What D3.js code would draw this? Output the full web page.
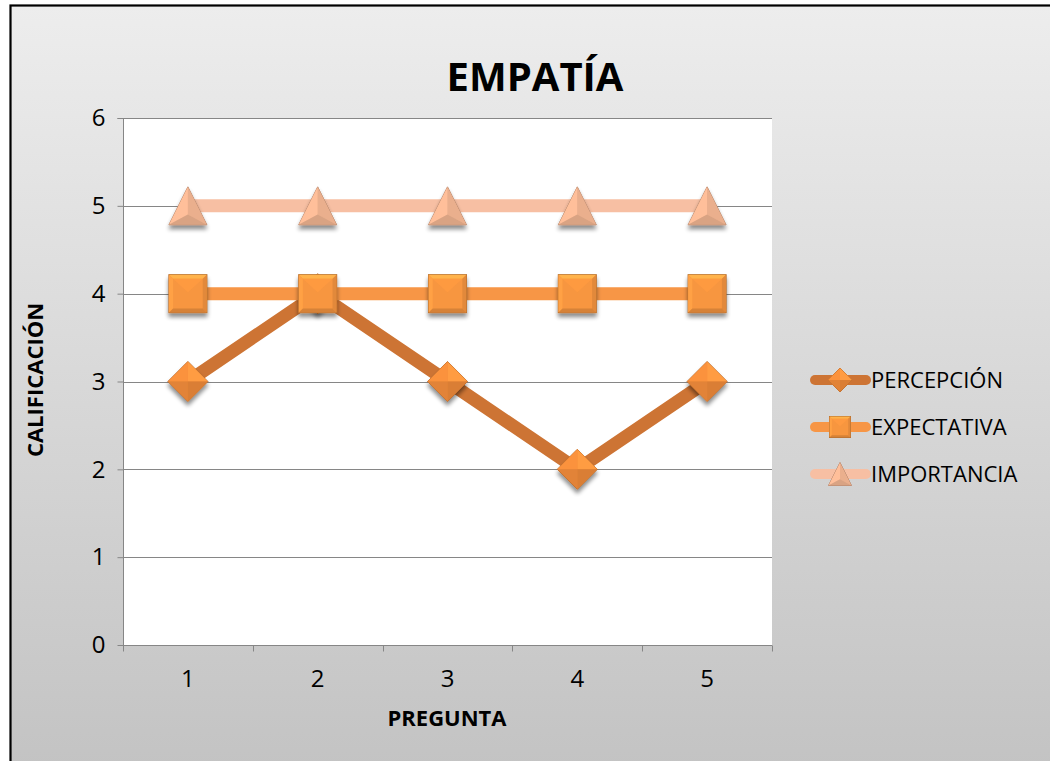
<!DOCTYPE html>
<html>
<head>
<meta charset="utf-8">
<script src="https://cdn.jsdelivr.net/npm/d3@7/dist/d3.min.js"></script>
<style>
  html, body { margin: 0; padding: 0; background: #ffffff; }
  svg { display: block; }
  text { font-family: "Open Sans", "Noto Sans", sans-serif; fill: #000; }
</style>
</head>
<body>
<svg id="chart" width="1050" height="761"></svg>
<script>
// Question numbers on the x axis
const preguntas = ["1", "2", "3", "4", "5"];
// Ratings per question for each series
const percepcion = [3, 4, 3, 2, 3];
const expectativa = [4, 4, 4, 4, 4];
const importancia = [5, 5, 5, 5, 5];
const yTicks = [0, 1, 2, 3, 4, 5, 6];
const seriesNames = ["PERCEPCIÓN", "EXPECTATIVA", "IMPORTANCIA"];

const svg = d3.select("#chart");
const W = 1050, H = 761;
const plot = { left: 123, right: 772, top: 118, bottom: 645 };

const defs = svg.append("defs");
const bg = defs.append("linearGradient").attr("id", "bg").attr("x1", 0).attr("y1", 0).attr("x2", 0).attr("y2", 1);
bg.append("stop").attr("offset", "0%").attr("stop-color", "#ededed");
bg.append("stop").attr("offset", "100%").attr("stop-color", "#c2c2c2");

const sh = defs.append("filter").attr("id", "shadow").attr("x", "-50%").attr("y", "-50%").attr("width", "200%").attr("height", "200%");
sh.append("feGaussianBlur").attr("in", "SourceAlpha").attr("stdDeviation", 2.2).attr("result", "b");
sh.append("feOffset").attr("in", "b").attr("dx", 0).attr("dy", 4).attr("result", "o");
sh.append("feComponentTransfer").attr("in", "o").attr("result", "oa")
  .append("feFuncA").attr("type", "linear").attr("slope", 0.45);
const m = sh.append("feMerge");
m.append("feMergeNode").attr("in", "oa");
m.append("feMergeNode").attr("in", "SourceGraphic");

// Chart frame
svg.append("rect").attr("x", 10.5).attr("y", 5.5).attr("width", W + 20).attr("height", H + 20)
  .attr("fill", "url(#bg)").attr("stroke", "#000").attr("stroke-width", 2.2);

const x = d3.scaleBand().domain(preguntas).range([plot.left, plot.right]);
const y = d3.scaleLinear().domain([0, 6]).range([plot.bottom, plot.top]);

svg.append("rect").attr("x", plot.left).attr("y", plot.top)
  .attr("width", plot.right - plot.left).attr("height", plot.bottom - plot.top).attr("fill", "#ffffff");

// Horizontal gridlines
svg.append("g").selectAll("line").data(yTicks.filter(d => d > 0)).join("line")
  .attr("x1", plot.left).attr("x2", plot.right)
  .attr("y1", d => Math.round(y(d)) + 0.5).attr("y2", d => Math.round(y(d)) + 0.5)
  .attr("stroke", "#868686").attr("stroke-width", 1);

// Y axis
const yAxis = svg.append("g").attr("transform", `translate(${plot.left + 0.5},0)`)
  .call(d3.axisLeft(y).tickValues(yTicks).tickSize(6).tickPadding(12).tickFormat(d3.format("d")));
yAxis.selectAll("path, line").attr("stroke", "#868686");
yAxis.selectAll("text").attr("font-size", 24).attr("font-family", "Open Sans").attr("fill", "#000");
yAxis.select(".domain").attr("d", `M-6,${plot.top + 0.5}H0V${plot.bottom + 0.5}`);

// X axis with ticks on category boundaries
const xAxis = svg.append("g").attr("transform", `translate(0,${plot.bottom + 0.5})`);
xAxis.append("line").attr("x1", plot.left).attr("x2", plot.right).attr("stroke", "#868686");
const bounds = preguntas.map(p => x(p)).concat([plot.right]);
xAxis.selectAll(".tk").data(bounds).join("line").attr("class", "tk")
  .attr("x1", d => Math.round(d) + 0.5).attr("x2", d => Math.round(d) + 0.5)
  .attr("y1", 0).attr("y2", 6).attr("stroke", "#868686");
xAxis.selectAll("text").data(preguntas).join("text")
  .attr("x", d => x(d) + x.bandwidth() / 2).attr("y", 41)
  .attr("text-anchor", "middle").attr("font-size", 24).text(d => d);

// Titles
svg.append("text").attr("x", 535).attr("y", 91).attr("text-anchor", "middle")
  .attr("font-size", 40).attr("font-weight", "bold").text("EMPATÍA");
svg.append("text").attr("x", 447).attr("y", 726).attr("text-anchor", "middle")
  .attr("font-size", 22).attr("font-weight", "bold").text("PREGUNTA");
svg.append("text").attr("transform", "translate(43,380) rotate(-90)").attr("text-anchor", "middle")
  .attr("font-size", 22).attr("font-weight", "bold").text("CALIFICACIÓN");

// Beveled marker shapes
function diamond(g, s, base) {
  const h = s / 2, c = d3.color(base);
  g.append("path").attr("d", `M0,${-h}L${h},0L0,${h}L${-h},0Z`).attr("fill", c).attr("stroke", c.darker(0.8)).attr("stroke-width", 1);
  g.append("path").attr("d", `M0,${-h}L${h},0L0,0Z`).attr("fill", c.brighter(0.35));
  g.append("path").attr("d", `M0,${-h}L${-h},0L0,0Z`).attr("fill", c.brighter(0.15));
  g.append("path").attr("d", `M${-h},0L0,${h}L0,0Z`).attr("fill", c.darker(0.15));
  g.append("path").attr("d", `M${h},0L0,${h}L0,0Z`).attr("fill", c.darker(0.25));
}
function square(g, s, base) {
  const h = s / 2, i = h * 0.78, c = d3.color(base);
  g.append("rect").attr("x", -h).attr("y", -h).attr("width", s).attr("height", s).attr("fill", c).attr("stroke", c.darker(1)).attr("stroke-width", 1);
  g.append("path").attr("d", `M${-h},${-h}L${h},${-h}L${i},${-i}L${-i},${-i}Z`).attr("fill", c.brighter(0.5));
  g.append("path").attr("d", `M${-h},${-h}L${-i},${-i}L${-i},${i}L${-h},${h}Z`).attr("fill", c.brighter(0.2));
  g.append("path").attr("d", `M${h},${-h}L${h},${h}L${i},${i}L${i},${-i}Z`).attr("fill", c.darker(0.25));
  g.append("path").attr("d", `M${-h},${h}L${h},${h}L${i},${i}L${-i},${i}Z`).attr("fill", c.darker(0.4));
  g.append("path").attr("d", `M${-i},${-i}L${i},${-i}L0,${-i * 0.1}Z`).attr("fill", c.brighter(0.08));
}
function triangle(g, s, base) {
  const h = s / 2, c = d3.color(base), cy = h * 0.45;
  g.append("path").attr("d", `M0,${-h}L${h},${h}L${-h},${h}Z`).attr("fill", c).attr("stroke", c.darker(0.9)).attr("stroke-width", 1);
  g.append("path").attr("d", `M0,${-h}L${-h},${h}L0,${cy}Z`).attr("fill", c.brighter(0.15));
  g.append("path").attr("d", `M0,${-h}L${h},${h}L0,${cy}Z`).attr("fill", c.darker(0.1));
  g.append("path").attr("d", `M${-h},${h}L${h},${h}L0,${cy}Z`).attr("fill", c.darker(0.3));
}

const series = [
  { name: seriesNames[0], values: percepcion, line: "#cd7434", marker: "#ee8a3a", shape: diamond, size: 40, lsize: 24 },
  { name: seriesNames[1], values: expectativa, line: "#f79646", marker: "#f7963f", shape: square, size: 38, lsize: 21 },
  { name: seriesNames[2], values: importancia, line: "#f7bfa3", marker: "#f2b592", shape: triangle, size: 38, lsize: 23 }
];

const line = d3.line().x((d, i) => x(preguntas[i]) + x.bandwidth() / 2).y(d => y(d));

series.forEach(s => {
  const g = svg.append("g");
  g.append("path").datum(s.values).attr("d", line).attr("fill", "none")
    .attr("stroke", s.line).attr("stroke-width", 13).attr("stroke-linejoin", "round");
  s.values.forEach((v, i) => {
    const mg = g.append("g").attr("filter", "url(#shadow)")
      .attr("transform", `translate(${x(preguntas[i]) + x.bandwidth() / 2},${y(v)})`);
    s.shape(mg, s.size, s.marker);
  });
});

// Legend
const legend = svg.append("g");
series.forEach((s, i) => {
  const ly = 380 + i * 47;
  const g = legend.append("g").attr("transform", `translate(0,${ly})`);
  g.append("line").attr("x1", 815).attr("x2", 866).attr("stroke", s.line)
    .attr("stroke-width", 10).attr("stroke-linecap", "round");
  const mg = g.append("g").attr("transform", "translate(840,0)");
  s.shape(mg, s.lsize, s.marker);
  g.append("text").attr("x", 871).attr("y", 8).attr("font-size", 22).text(s.name);
});
</script>
</body>
</html>
